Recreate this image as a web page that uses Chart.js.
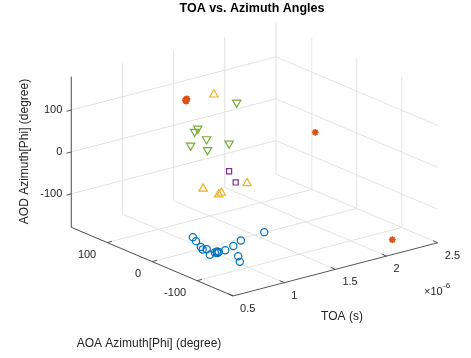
<!DOCTYPE html>
<html>
<head>
<meta charset="utf-8">
<script src="https://cdn.jsdelivr.net/npm/chart.js@4/dist/chart.umd.min.js"></script>
<style>
html, body { margin: 0; padding: 0; background: #fff; }
canvas { display: block; }
</style>
</head>
<body>
<canvas id="chart" width="471" height="358"></canvas>
<script>
// Axis limits and ticks
const toaLim = [0.5e-6, 2.5e-6];
const angleLim = [-180, 180];
const toaTicks = [0.5e-6, 1e-6, 1.5e-6, 2e-6, 2.5e-6];
const toaTickLabels = ['0.5', '1', '1.5', '2', '2.5'];
const angleTicks = [-100, 0, 100];
const angleTickLabels = ['-100', '0', '100'];

// Series: TOA (s), AOA azimuth (deg), AOD azimuth (deg)
const toaBlue = [0.915e-6, 0.879e-6, 0.826e-6, 0.799e-6, 0.828e-6, 0.770e-6, 0.831e-6, 0.858e-6, 0.862e-6, 0.840e-6, 0.926e-6, 1.036e-6, 1.159e-6, 0.918e-6, 0.849e-6, 1.421e-6];
const aoaBlue = [4.0, -11.3, -34.2, -44.2, -46.7, -67.0, -64.0, -62.6, -65.7, -67.8, -65.6, -58.6, -47.3, -96.3, -115.6, -39.7];
const aodBlue = [-150, -150, -150, -150, -150, -150, -150, -150, -150, -150, -150, -150, -150, -150, -150, -150];

const toaRed = [1.032e-6, 1.062e-6, 1.024e-6, 1.05e-6, 1.66e-6, 2.21e-6];
const aoaRed = [47.5, 50.9, 43.5, 49, -98.8, -145];
const aodRed = [150, 150, 150, 150, 100, -170];

const toaYellow = [1.226e-6, 1.133e-6, 1.145e-6, 1.184e-6, 1.478e-6];
const aoaYellow = [28, 30.8, -1.2, 1.9, 11.6];
const aodYellow = [160, -60, -60, -60, -60];

const toaPurple = [1.30e-6, 1.18e-6];
const aoaPurple = [11, -31];
const aodPurple = [-20, -20];

const toaGreen = [1.609e-6, 1.363e-6, 1.297e-6, 1.383e-6, 1.315e-6, 1.353e-6, 1.457e-6];
const aoaGreen = [64.4, 95, 87, 80, 100, 71, 46.6];
const aodGreen = [100, 40, 40, 20, 0, 0, 20];

// 3D box on screen: front-bottom corner and edge vectors (view az/el)
const box = { x0: 233, y0: 300, ux: 210, uy: -55, vx: -166, vy: -71, wy: -156 };

function project(toa, aoa, aod) {
    const u = (toa - toaLim[0]) / (toaLim[1] - toaLim[0]);
    const v = (aoa - angleLim[0]) / (angleLim[1] - angleLim[0]);
    const w = (aod - angleLim[0]) / (angleLim[1] - angleLim[0]);
    return {
        x: box.x0 + box.ux * u + box.vx * v,
        y: box.y0 + box.uy * u + box.vy * v + box.wy * w
    };
}

const toPoints = (t, a, d) => t.map((v, i) => project(v, a[i], d[i]));

const font = "'Liberation Sans', Arial, Helvetica, sans-serif";

const axes3d = {
    id: 'axes3d',
    beforeDatasetsDraw(chart) {
        const ctx = chart.ctx;
        const sx = chart.scales.x, sy = chart.scales.y;
        const px = (t, a, d) => {
            const p = project(t, a, d);
            return { x: sx.getPixelForValue(p.x), y: sy.getPixelForValue(p.y) };
        };
        const line = (p, q) => {
            ctx.beginPath();
            ctx.moveTo(p.x, p.y);
            ctx.lineTo(q.x, q.y);
            ctx.stroke();
        };
        const [x0, x1] = toaLim;
        const [a0, a1] = angleLim;

        ctx.save();
        // grid
        ctx.strokeStyle = '#e2e2e2';
        ctx.lineWidth = 1;
        toaTicks.forEach(t => {
            line(px(t, a0, a0), px(t, a1, a0));
            line(px(t, a1, a0), px(t, a1, a1));
        });
        angleTicks.forEach(a => {
            line(px(x0, a, a0), px(x1, a, a0));
            line(px(x1, a, a0), px(x1, a, a1));
        });
        angleTicks.forEach(z => {
            line(px(x0, a1, z), px(x1, a1, z));
            line(px(x1, a0, z), px(x1, a1, z));
        });

        // axis lines
        ctx.strokeStyle = '#444';
        ctx.lineWidth = 0.9;
        line(px(x0, a1, a0), px(x0, a1, a1));
        line(px(x0, a0, a0), px(x0, a1, a0));
        line(px(x0, a0, a0), px(x1, a0, a0));

        // ticks
        ctx.fillStyle = '#262626';
        ctx.font = '11px ' + font;
        ctx.textBaseline = 'middle';
        toaTicks.forEach((t, i) => {
            const p = px(t, a0, a0);
            line(p, { x: p.x - 4.6, y: p.y - 2 });
            ctx.textAlign = 'left';
            ctx.fillText(toaTickLabels[i], p.x + 7, p.y + 13);
        });
        angleTicks.forEach((a, i) => {
            const p = px(x0, a, a0);
            line(p, { x: p.x + 4.8, y: p.y - 1.3 });
            ctx.textAlign = 'right';
            ctx.fillText(angleTickLabels[i], p.x - 11, p.y + 12);
        });
        angleTicks.forEach((z, i) => {
            const p = px(x0, a1, z);
            line(p, { x: p.x - 4.8, y: p.y + 1.3 });
            ctx.textAlign = 'right';
            ctx.fillText(angleTickLabels[i], p.x - 9, p.y);
        });

        // exponent
        ctx.textAlign = 'left';
        ctx.fillText('\u00d710', 424, 292);
        ctx.font = '8px ' + font;
        ctx.fillText('-6', 443, 286);

        // axis titles
        ctx.font = '12px ' + font;
        ctx.textAlign = 'center';
        ctx.fillText('TOA (s)', 342, 317);
        ctx.fillText('AOA Azimuth[Phi] (degree)', 149, 344);
        ctx.save();
        ctx.translate(25, 151.5);
        ctx.rotate(-Math.PI / 2);
        ctx.fillText('AOD Azimuth[Phi] (degree)', 0, 0);
        ctx.restore();

        // title
        ctx.font = 'bold 12.5px ' + font;
        ctx.fillStyle = '#000';
        ctx.fillText('TOA vs. Azimuth Angles', 252, 9);
        ctx.restore();
    }
};

const series = (data, color, style, radius, width, rotation) => ({
    data: data,
    showLine: false,
    pointStyle: style,
    pointRadius: radius,
    pointRotation: rotation || 0,
    pointBorderColor: color,
    pointBackgroundColor: 'rgba(0,0,0,0)',
    pointBorderWidth: width
});

new Chart(document.getElementById('chart'), {
    type: 'scatter',
    data: {
        datasets: [
            series(toPoints(toaBlue, aoaBlue, aodBlue), '#0072BD', 'circle', 3.6, 1.2),
            series(toPoints(toaRed, aoaRed, aodRed), '#D95319', 'star', 3.4, 1.7),
            series(toPoints(toaYellow, aoaYellow, aodYellow), '#EDB120', 'triangle', 4.8, 1.2),
            series(toPoints(toaPurple, aoaPurple, aodPurple), '#7E2F8E', 'rect', 3.6, 1.2),
            series(toPoints(toaGreen, aoaGreen, aodGreen), '#77AC30', 'triangle', 4.8, 1.2, 180)
        ]
    },
    options: {
        responsive: false,
        animation: false,
        events: [],
        devicePixelRatio: 1,
        layout: { padding: 0 },
        plugins: { legend: { display: false }, tooltip: { enabled: false } },
        scales: {
            x: { type: 'linear', min: 0, max: 471, display: false },
            y: { type: 'linear', min: 0, max: 358, reverse: true, display: false }
        }
    },
    plugins: [axes3d]
});
</script>
</body>
</html>
